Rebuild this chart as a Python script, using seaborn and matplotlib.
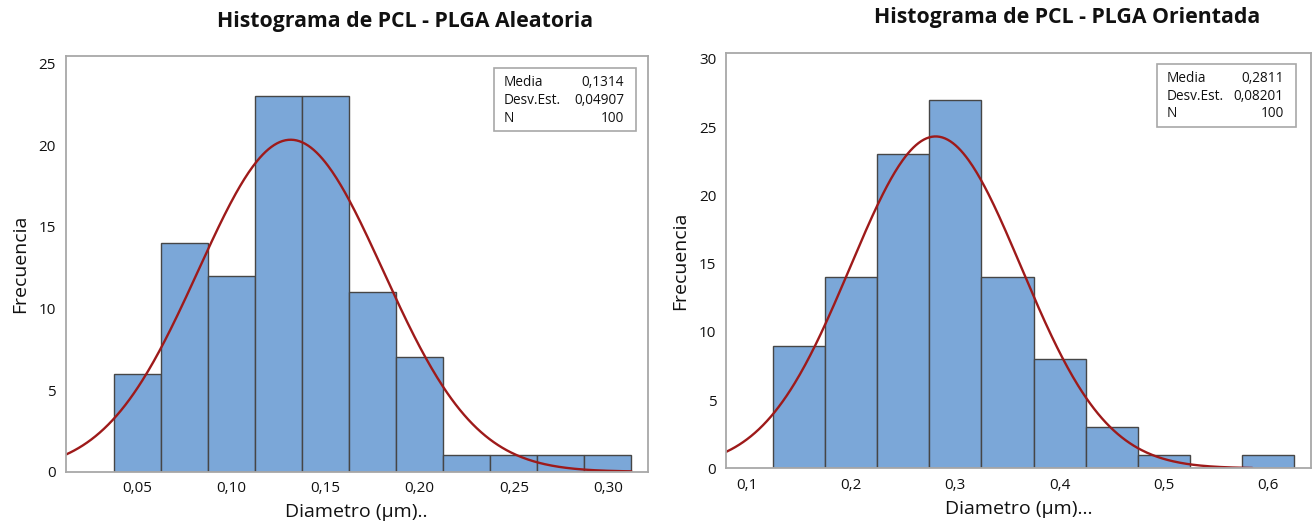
import numpy as np
import pandas as pd
import matplotlib
matplotlib.use("Agg")
import matplotlib.pyplot as plt
import seaborn as sns

# ---- data ----
left_centers = [0.050, 0.075, 0.100, 0.125, 0.150, 0.175, 0.200, 0.225, 0.250, 0.275, 0.300]
left_counts = [6, 14, 12, 23, 23, 11, 7, 1, 1, 1, 1]
left_mean, left_sd, left_n = 0.1314, 0.04907, 100

right_centers = [0.15, 0.20, 0.25, 0.30, 0.35, 0.40, 0.45, 0.50, 0.55, 0.60]
right_counts = [9, 14, 23, 27, 14, 8, 3, 1, 0, 1]
right_mean, right_sd, right_n = 0.2811, 0.08201, 100

left_xticks = [0.05, 0.10, 0.15, 0.20, 0.25, 0.30]
left_xticklabels = ["0,05", "0,10", "0,15", "0,20", "0,25", "0,30"]
left_yticks = [0, 5, 10, 15, 20, 25]
right_xticks = [0.1, 0.2, 0.3, 0.4, 0.5, 0.6]
right_xticklabels = ["0,1", "0,2", "0,3", "0,4", "0,5", "0,6"]
right_yticks = [0, 5, 10, 15, 20, 25, 30]

titles = ["Histograma de PCL - PLGA Aleatoria", "Histograma de PCL - PLGA Orientada"]
xlabels = ["Diametro (µm)..", "Diametro (µm)..."]
ylabel = "Frecuencia"

sns.set_style("white")
plt.rcParams['font.family'] = ['Open Sans', 'DejaVu Sans']

BAR = "#7BA7D8"
EDGE = "#464646"
CURVE = "#9E1A1A"
FRAME = "#A8A8A8"
TXT = "#111111"

fig = plt.figure(figsize=(13.14, 5.25), dpi=100)
axL = fig.add_axes([65.7/1314, (525-471.7)/525, 582/1314, 416/525])
axR = fig.add_axes([726/1314, (525-468.3)/525, 584.7/1314, 415.6/525])


def panel(ax, centers, counts, width, mean, sd, n, xlim, ylim, xcurve_end,
          xticks, xticklabels, yticks, xlabel):
    df = pd.DataFrame({"x": centers, "w": counts})
    lo = centers[0] - width / 2
    hi = centers[-1] + width / 2
    sns.histplot(data=df, x="x", weights="w", binwidth=width, binrange=(lo, hi),
                 stat="count", color=BAR, alpha=1.0, edgecolor=EDGE, linewidth=1.0,
                 ax=ax)
    xs = np.linspace(xlim[0], xcurve_end, 400)
    ys = n * width * np.exp(-0.5 * ((xs - mean) / sd) ** 2) / (sd * np.sqrt(2 * np.pi))
    sns.lineplot(x=xs, y=ys, color=CURVE, linewidth=1.7, ax=ax)
    ax.set_xlim(*xlim)
    ax.set_ylim(*ylim)
    ax.set_xticks(xticks)
    ax.set_xticklabels(xticklabels)
    ax.set_yticks(yticks)
    ax.tick_params(axis="both", direction="out", length=4, width=1, color=FRAME,
                   labelsize=11, labelcolor=TXT, pad=3)
    for s in ax.spines.values():
        s.set_color(FRAME)
        s.set_linewidth(1.3)
        s.set_visible(True)
    ax.set_xlabel(xlabel, fontsize=14, color=TXT, labelpad=5)
    ax.set_ylabel(ylabel, fontsize=14, color=TXT, labelpad=7)
    return ax


panel(axL, left_centers, left_counts, 0.025, left_mean, left_sd, left_n,
      (0.0118, 0.3212), (0, 25.47), 0.3125,
      left_xticks, left_xticklabels, left_yticks, xlabels[0])
panel(axR, right_centers, right_counts, 0.05, right_mean, right_sd, right_n,
      (0.0799, 0.641), (0, 30.46), 0.585,
      right_xticks, right_xticklabels, right_yticks, xlabels[1])

fig.text(405/1314, 1 - 22/525, titles[0], ha="center", va="center",
         fontsize=15.3, fontweight="bold", color=TXT)
fig.text(1067/1314, 1 - 18/525, titles[1], ha="center", va="center",
         fontsize=15.3, fontweight="bold", color=TXT)


def statbox(x0, y0, x1, y1, mean, sd, n):
    from matplotlib.patches import Rectangle
    W, H = 1314, 525
    fig.patches.append(Rectangle((x0/W, 1-y1/H), (x1-x0)/W, (y1-y0)/H,
                                 transform=fig.transFigure, facecolor="white",
                                 edgecolor=FRAME, linewidth=1.2, zorder=5))
    rows = [("Media", f"{mean:.4f}".replace(".", ",")),
            ("Desv.Est.", f"{sd:.5f}".replace(".", ",")),
            ("N", f"{n}")]
    for i, (k, v) in enumerate(rows):
        yy = y0 + 14 + i * 18
        fig.text((x0 + 10)/W, 1 - yy/H, k, ha="left", va="center",
                 fontsize=9.8, color=TXT, zorder=6)
        fig.text((x1 - 12)/W, 1 - yy/H, v, ha="right", va="center",
                 fontsize=9.8, color=TXT, zorder=6)


statbox(494, 68, 636, 131, left_mean, left_sd, left_n)
statbox(1157, 64, 1296, 127, right_mean, right_sd, right_n)

fig.savefig("out.png", dpi=100, facecolor="white")
